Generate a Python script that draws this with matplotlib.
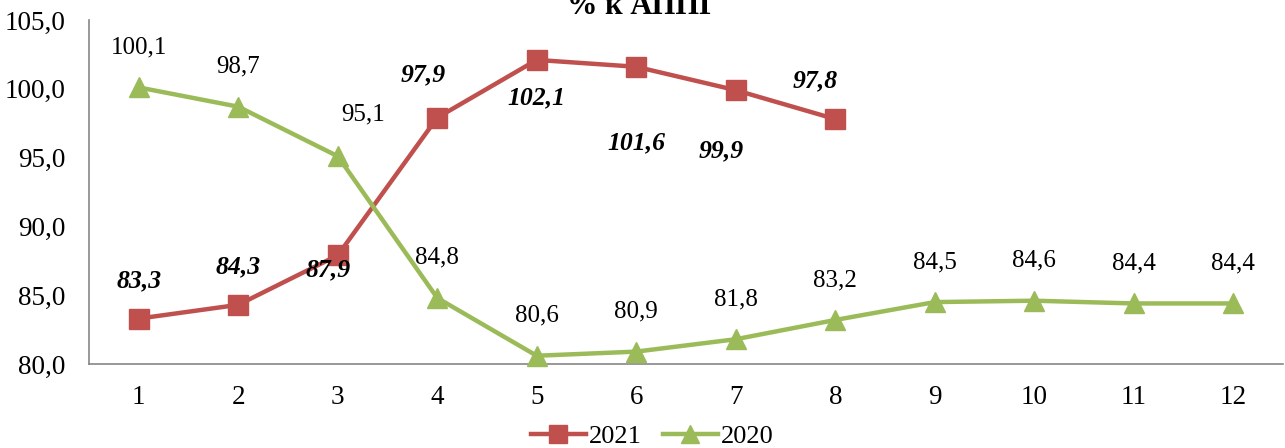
import matplotlib.pyplot as plt
from matplotlib.ticker import FuncFormatter

plt.rcParams['font.family'] = ['Liberation Serif', 'DejaVu Serif']

months = [1, 2, 3, 4, 5, 6, 7, 8, 9, 10, 11, 12]
vals_2021 = [83.3, 84.3, 87.9, 97.9, 102.1, 101.6, 99.9, 97.8]
vals_2020 = [100.1, 98.7, 95.1, 84.8, 80.6, 80.9, 81.8, 83.2, 84.5, 84.6, 84.4, 84.4]

RED = '#C0504D'
GREEN = '#9BBB59'
AXC = '#868686'


def fmt(v):
    return f'{v:.1f}'.replace('.', ',')


fig = plt.figure(figsize=(12.85, 4.48), dpi=100)
ax = fig.add_axes([89 / 1285, 1 - 364 / 448, (1283 - 89) / 1285, (364 - 20) / 448])

ax.plot(months[:len(vals_2021)], vals_2021, color=RED, lw=3.2, marker='s',
        ms=14.5, mec=RED, mfc=RED, label='2021', clip_on=False, zorder=3)
ax.plot(months, vals_2020, color=GREEN, lw=3.2, marker='^',
        ms=15, mec=GREEN, mfc=GREEN, label='2020', clip_on=False, zorder=3)

# подписи 2021 (смещения в пикселях)
off_2021 = [(0, 38), (0, 38), (-10, -15), (-14, 43), (0, -38), (0, -76), (-15, -61), (-20, 38)]
for m, v, (dx, dy) in zip(months, vals_2021, off_2021):
    ax.annotate(fmt(v), (m, v), xytext=(dx * 0.72, dy * 0.72), textcoords='offset points',
                ha='center', va='center', fontsize=18.5, fontweight='bold',
                fontstyle='italic', color='black')

off_2020 = [(0, 40)] * 12
off_2020[2] = (25, 42)
for m, v, (dx, dy) in zip(months, vals_2020, off_2020):
    ax.annotate(fmt(v), (m, v), xytext=(dx * 0.72, dy * 0.72), textcoords='offset points',
                ha='center', va='center', fontsize=18, color='black')

ax.set_xlim(0.5, 12.5)
ax.set_ylim(80, 105)
ax.set_xticks(months)
ax.set_yticks([80, 85, 90, 95, 100, 105])
ax.yaxis.set_major_formatter(FuncFormatter(lambda v, p: fmt(v)))
ax.tick_params(axis='both', length=0, labelsize=19.5, colors='black')
ax.tick_params(axis='x', pad=15)
ax.tick_params(axis='y', pad=17)
for s in ['top', 'right']:
    ax.spines[s].set_visible(False)
for s in ['left', 'bottom']:
    ax.spines[s].set_color(AXC)
    ax.spines[s].set_linewidth(1.2)

fig.text(0.5, 1.0 - 14 / 448, '% к АППГ', ha='center', va='baseline',
         fontsize=22, fontweight='bold')

fig.legend(loc='center', bbox_to_anchor=(652 / 1285, 1 - 436 / 448), ncol=2, frameon=False,
           fontsize=19, handlelength=2.1, handletextpad=0.1, columnspacing=0.8,
           markerscale=0.85)

fig.savefig('out.png', dpi=100)
